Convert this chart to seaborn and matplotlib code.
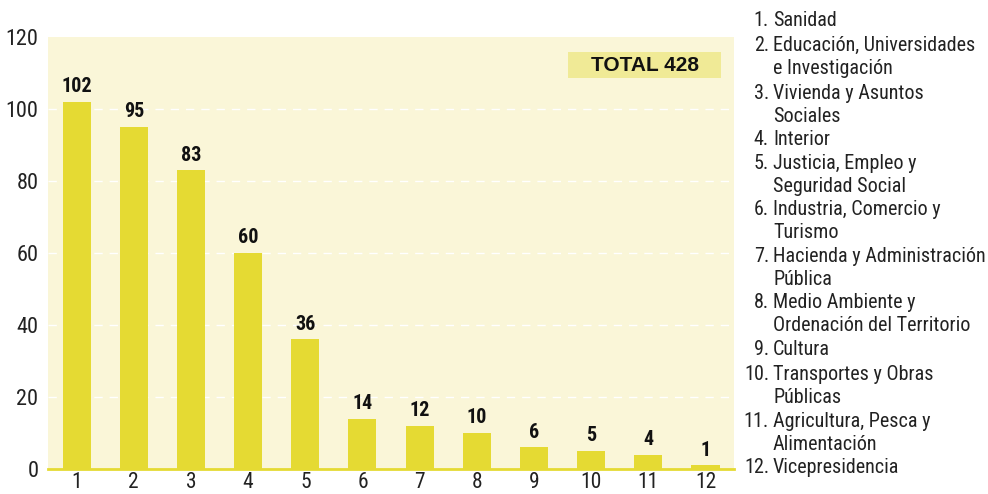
import matplotlib
matplotlib.use("Agg")
from matplotlib import pyplot as plt
from matplotlib.ticker import FixedLocator
from matplotlib.patches import Rectangle
import seaborn as sns
import pandas as pd

# data
categorias = ["1", "2", "3", "4", "5", "6", "7", "8", "9", "10", "11", "12"]
valores = [102, 95, 83, 60, 36, 14, 12, 10, 6, 5, 4, 1]
leyenda = [
    "Sanidad",
    "Educación, Universidades\ne Investigación",
    "Vivienda y Asuntos\nSociales",
    "Interior",
    "Justicia, Empleo y\nSeguridad Social",
    "Industria, Comercio y\nTurismo",
    "Hacienda y Administración\nPública",
    "Medio Ambiente y\nOrdenación del Territorio",
    "Cultura",
    "Transportes y Obras\nPúblicas",
    "Agricultura, Pesca y\nAlimentación",
    "Vicepresidencia",
]
total_txt = "TOTAL 428"

sns.set_theme(style="white")
plt.rcParams["font.family"] = ["Roboto Condensed", "Roboto", "DejaVu Sans"]

df = pd.DataFrame({"cat": categorias, "n": valores})

fig = plt.figure(figsize=(9.88, 4.94), dpi=100)
ax = fig.add_axes([0.0486, 0.0506, 0.6944, 0.8745])
ax.set_facecolor("#FAF6D8")

sns.barplot(data=df, x="cat", y="n", color="#E5DA33", saturation=1, width=0.49,
            linewidth=0, ax=ax)

ax.set_ylim(0, 120)
ax.set_xlim(-0.5, 11.5)
ax.set_yticks([0, 20, 40, 60, 80, 100, 120])
ax.tick_params(axis="y", length=0, labelsize=16, pad=7, labelcolor="#222222")
ax.tick_params(axis="x", which="major", length=0, labelsize=15.5, pad=2, labelcolor="#222222")
ax.xaxis.set_minor_locator(FixedLocator([i - 0.5 for i in range(13)]))
ax.tick_params(axis="x", which="minor", length=10, width=1.5, color="#777777", direction="inout")
ax.set_xlabel("")
ax.set_ylabel("")

for yv in [20, 40, 60, 80, 100]:
    ax.axhline(yv, color="white", lw=1, ls=(0, (6, 5)), zorder=0.5)

for s in ["top", "right", "left"]:
    ax.spines[s].set_visible(False)
ax.spines["bottom"].set_color("#E5DA33")
ax.spines["bottom"].set_linewidth(2)

ax.bar_label(ax.containers[0], padding=4, fontsize=14.5, fontweight="bold", color="#111111")

# total box
ax.add_patch(Rectangle((8.6, 108.6), 2.67, 7.2, facecolor="#F0EA96", edgecolor="none", zorder=3))
ax.text(9.935, 112.0, total_txt, ha="center", va="center", fontsize=15,
        fontweight="bold", color="#111111", zorder=4,
        family=["Liberation Sans", "DejaVu Sans"])

# legend list on the right, one text per line, baseline aligned
ys = [19, 44, 92, 138, 162, 208, 255, 301, 348, 373, 420, 466]
for i, (lab, yp) in enumerate(zip(leyenda, ys)):
    base = yp + 7
    fig.text(769 / 988, 1 - base / 494, f"{i + 1}.", ha="right", va="baseline",
             fontsize=14.5, color="#222222")
    for k, line in enumerate(lab.split("\n")):
        fig.text(773 / 988, 1 - (base + 23 * k) / 494, line, ha="left", va="baseline",
                 fontsize=14.5, color="#222222")

fig.savefig("out.png", dpi=100)
